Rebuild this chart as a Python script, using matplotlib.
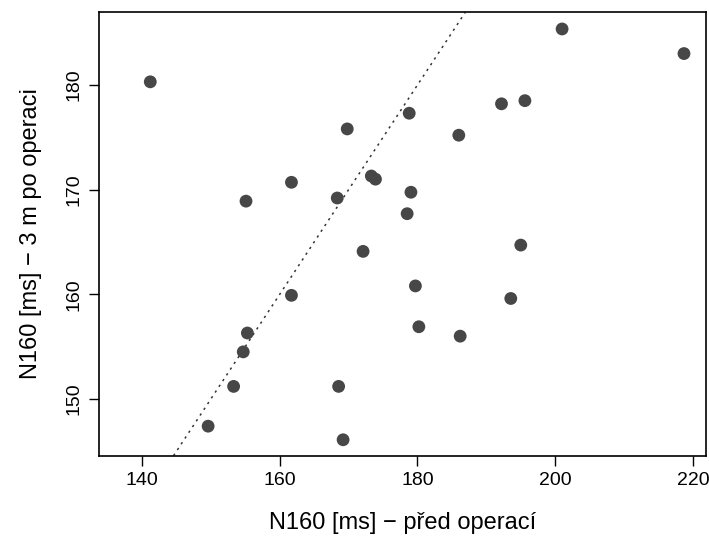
import matplotlib
matplotlib.use("Agg")
import matplotlib.pyplot as plt

plt.rcParams['font.family'] = ['Liberation Sans', 'DejaVu Sans']

# N160 [ms] before surgery vs. 3 months after
pred = [141.2, 201.0, 218.7, 169.8, 161.7, 155.1, 168.35, 192.2, 195.6, 178.8,
        186.0, 173.3, 173.9, 179.05, 178.5, 195.0, 172.1, 179.7, 193.55, 180.2,
        186.2, 161.7, 155.3, 154.7, 153.3, 149.6, 168.55, 169.2]
po = [180.3, 185.35, 183.0, 175.8, 170.7, 168.9, 169.2, 178.2, 178.5, 177.3,
      175.2, 171.3, 171.0, 169.75, 167.7, 164.7, 164.1, 160.8, 159.6, 156.9,
      156.0, 159.9, 156.3, 154.5, 151.2, 147.4, 151.2, 146.1]

fig = plt.figure(figsize=(7.09, 5.43), dpi=100)
ax = fig.add_axes([0.1396, 0.1608, 0.8562, 0.8165])

ax.scatter(pred, po, s=85, color='#474747', edgecolors='none', zorder=3)
ax.axline((0, 0), slope=1, color='#333333', linestyle=(0, (1.5, 3)), linewidth=1.1)

ax.set_xlim(133.75, 221.9)
ax.set_ylim(144.58, 186.94)
ax.set_xticks([140, 160, 180, 200, 220])
ax.set_yticks([150, 160, 170, 180])

ax.tick_params(direction='out', length=7, width=1, labelsize=14, pad=5)
for lbl in ax.get_yticklabels():
    lbl.set_rotation(90)
    lbl.set_va('center')

for sp in ax.spines.values():
    sp.set_linewidth(1.2)

ax.set_xlabel('N160 [ms] − před operací', fontsize=17, labelpad=16)
ax.set_ylabel('N160 [ms] − 3 m po operaci', fontsize=17, labelpad=17)

fig.savefig('out.png', dpi=100)
